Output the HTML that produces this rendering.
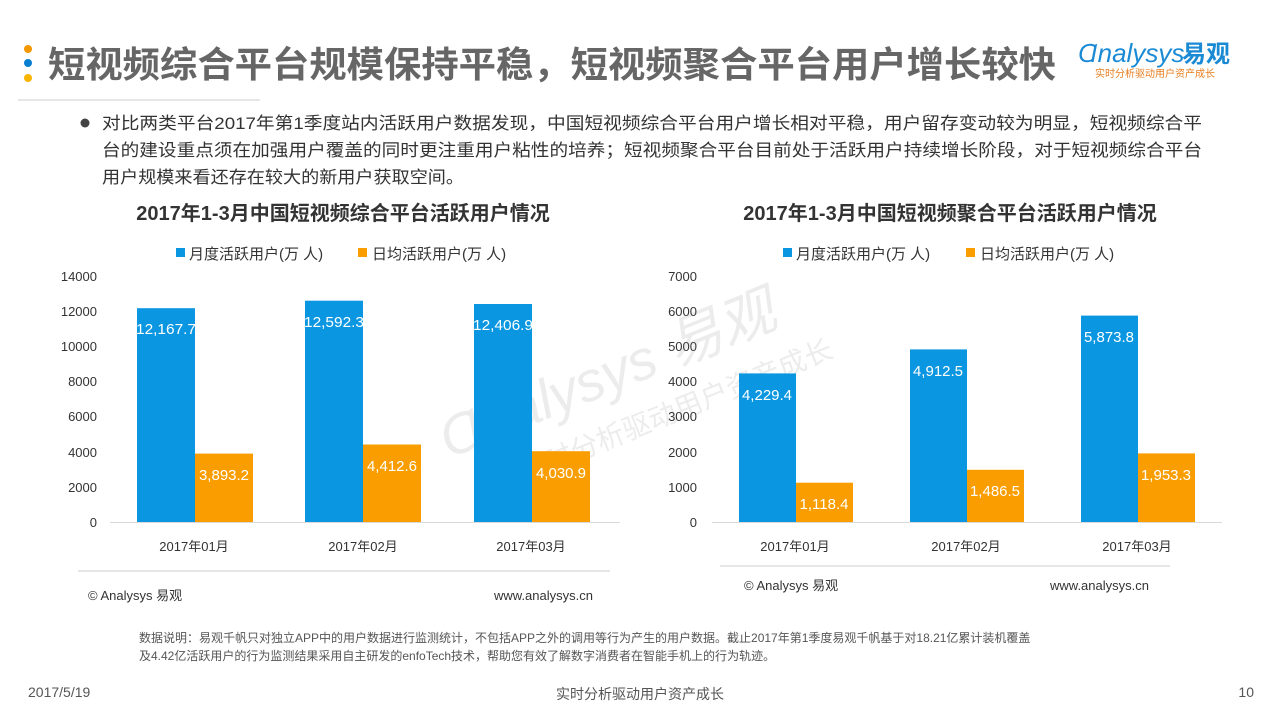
<!DOCTYPE html>
<html><head><meta charset="utf-8"><style>
body{margin:0;width:1280px;height:720px;background:#fff;overflow:hidden;font-family:"Liberation Sans","Noto Sans CJK SC",sans-serif}
</style></head><body>
<svg width="1280" height="720" xmlns="http://www.w3.org/2000/svg" font-family="'Liberation Sans','Noto Sans CJK SC',sans-serif">
<circle cx="28" cy="49" r="4" fill="#f39800"/><circle cx="28" cy="63" r="4" fill="#0a7fd1"/><circle cx="28" cy="78" r="4" fill="#f8b500"/>
<text x="48" y="77" font-size="36" font-weight="bold" fill="#666" textLength="1008" lengthAdjust="spacingAndGlyphs">短视频综合平台规模保持平稳，短视频聚合平台用户增长较快</text>
<line x1="18" y1="100" x2="260" y2="100" stroke="#ddd" stroke-width="1.5"/>
<text x="1078" y="62" font-size="26" fill="#1a8ad4" font-style="italic">Ɑnalysys</text><text x="1182" y="62" font-size="24" font-weight="bold" fill="#1a8ad4">易观</text>
<text x="1095" y="77" font-size="10" fill="#e87d1e">实时分析驱动用户资产成长</text>
<circle cx="85" cy="123" r="4.5" fill="#444"/>
<g font-size="17" fill="#333"><text x="102" y="129" textLength="1100" lengthAdjust="spacingAndGlyphs">对比两类平台2017年第1季度站内活跃用户数据发现，中国短视频综合平台用户增长相对平稳，用户留存变动较为明显，短视频综合平</text>
<text x="102" y="156" textLength="1100" lengthAdjust="spacingAndGlyphs">台的建设重点须在加强用户覆盖的同时更注重用户粘性的培养；短视频聚合平台目前处于活跃用户持续增长阶段，对于短视频综合平台</text>
<text x="102" y="183" textLength="362" lengthAdjust="spacingAndGlyphs">用户规模来看还存在较大的新用户获取空间。</text></g>
<g font-size="20" font-weight="bold" fill="#333"><text x="343" y="220" text-anchor="middle">2017年1-3月中国短视频综合平台活跃用户情况</text><text x="950" y="220" text-anchor="middle">2017年1-3月中国短视频聚合平台活跃用户情况</text></g>
<g font-size="15" fill="#333">
<rect x="176" y="248" width="9" height="9" fill="#0a96e0"/><text x="189" y="259">月度活跃用户(万 人)</text>
<rect x="358" y="248" width="9" height="9" fill="#f99d00"/><text x="372" y="259">日均活跃用户(万 人)</text>
<rect x="783" y="248" width="9" height="9" fill="#0a96e0"/><text x="796" y="259">月度活跃用户(万 人)</text>
<rect x="966" y="248" width="9" height="9" fill="#f99d00"/><text x="980" y="259">日均活跃用户(万 人)</text></g>
<g font-size="13" fill="#333" text-anchor="end">
<text x="97" y="281">14000</text><text x="97" y="316">12000</text><text x="97" y="351">10000</text><text x="97" y="386">8000</text><text x="97" y="421">6000</text><text x="97" y="457">4000</text><text x="97" y="492">2000</text><text x="97" y="527">0</text>
<text x="697" y="281">7000</text><text x="697" y="316">6000</text><text x="697" y="351">5000</text><text x="697" y="386">4000</text><text x="697" y="421">3000</text><text x="697" y="457">2000</text><text x="697" y="492">1000</text><text x="697" y="527">0</text></g>
<g opacity="0.15" fill="#888"><text x="420" y="410" font-size="56" font-style="italic" transform="rotate(-22 560 360)">Ɑnalysys 易观</text><text x="480" y="460" font-size="28" transform="rotate(-22 560 360)">实时分析驱动用户资产成长</text></g>
<line x1="110" y1="522.5" x2="620" y2="522.5" stroke="#d9d9d9"/><line x1="712" y1="522.5" x2="1222" y2="522.5" stroke="#d9d9d9"/>
<g fill="#0a96e0"><rect x="137" y="308.2" width="58" height="213.8"/><rect x="305" y="300.7" width="58" height="221.3"/><rect x="474" y="304" width="58" height="218"/>
<rect x="739" y="373.4" width="57" height="148.6"/><rect x="910" y="349.4" width="57" height="172.6"/><rect x="1081" y="315.6" width="57" height="206.4"/></g>
<g fill="#f99d00"><rect x="195" y="453.6" width="58" height="68.4"/><rect x="363" y="444.5" width="58" height="77.5"/><rect x="532" y="451.2" width="58" height="70.8"/>
<rect x="796" y="482.7" width="57" height="39.3"/><rect x="967" y="469.8" width="57" height="52.2"/><rect x="1138" y="453.4" width="57" height="68.6"/></g>
<g font-size="15" fill="#fff" text-anchor="middle">
<text x="166" y="334" textLength="60" lengthAdjust="spacingAndGlyphs">12,167.7</text><text x="334" y="327" textLength="60" lengthAdjust="spacingAndGlyphs">12,592.3</text><text x="503" y="330" textLength="60" lengthAdjust="spacingAndGlyphs">12,406.9</text>
<text x="224" y="480">3,893.2</text><text x="392" y="471">4,412.6</text><text x="561" y="478">4,030.9</text>
<text x="767" y="400">4,229.4</text><text x="938" y="376">4,912.5</text><text x="1109" y="342">5,873.8</text>
<text x="824" y="509">1,118.4</text><text x="995" y="496">1,486.5</text><text x="1166" y="480">1,953.3</text></g>
<g font-size="13" fill="#333" text-anchor="middle"><text x="194" y="551">2017年01月</text><text x="363" y="551">2017年02月</text><text x="531" y="551">2017年03月</text>
<text x="795" y="551">2017年01月</text><text x="966" y="551">2017年02月</text><text x="1137" y="551">2017年03月</text></g>
<line x1="78" y1="571" x2="610" y2="571" stroke="#ccc"/><line x1="720" y1="566" x2="1170" y2="566" stroke="#ccc"/>
<g font-size="13" fill="#333"><text x="88" y="600">© Analysys 易观</text><text x="494" y="600">www.analysys.cn</text><text x="744" y="590">© Analysys 易观</text><text x="1050" y="590">www.analysys.cn</text></g>
<g font-size="12" fill="#555"><text x="139" y="642">数据说明：易观千帆只对独立APP中的用户数据进行监测统计，不包括APP之外的调用等行为产生的用户数据。截止2017年第1季度易观千帆基于对18.21亿累计装机覆盖</text><text x="139" y="660">及4.42亿活跃用户的行为监测结果采用自主研发的enfoTech技术，帮助您有效了解数字消费者在智能手机上的行为轨迹。</text></g>
<g font-size="14" fill="#555"><text x="28" y="697">2017/5/19</text><text x="640" y="699" text-anchor="middle">实时分析驱动用户资产成长</text><text x="1254" y="697" text-anchor="end">10</text></g>
</svg></body></html>
